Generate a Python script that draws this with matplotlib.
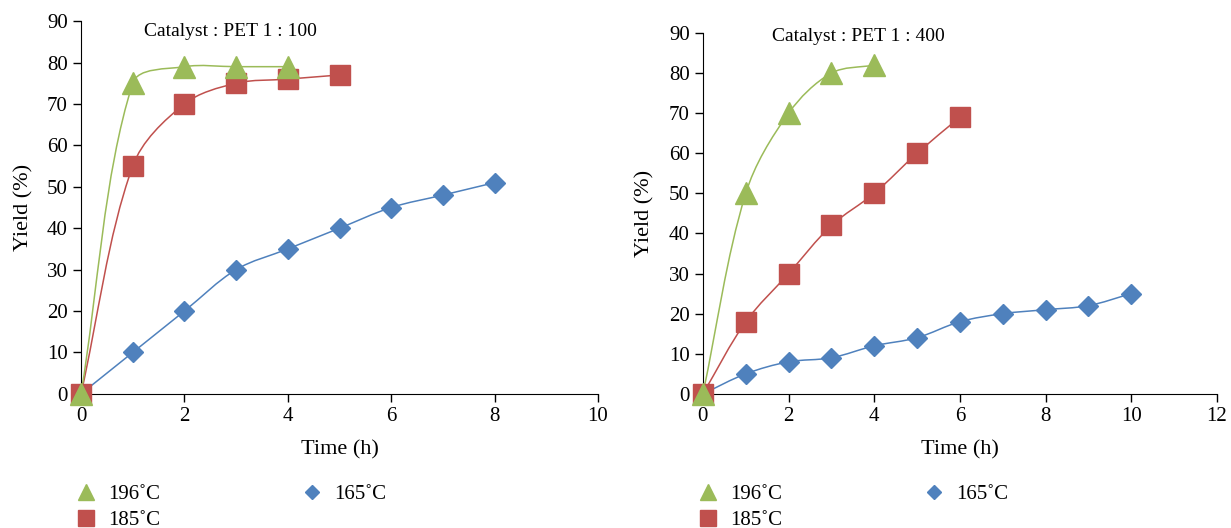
import matplotlib
matplotlib.use('Agg')
import matplotlib.pyplot as plt
from matplotlib.path import Path
from matplotlib.patches import PathPatch
from matplotlib.lines import Line2D
import numpy as np

plt.rcParams['font.family'] = ['Liberation Serif', 'DejaVu Serif']

# left panel, catalyst : PET 1 : 100
t196_a = [0, 1, 2, 3, 4]
y196_a = [0, 75, 79, 79, 79]
t185_a = [0, 1, 2, 3, 4, 5]
y185_a = [0, 55, 70, 75, 76, 77]
t165_a = [0, 1, 2, 3, 4, 5, 6, 7, 8]
y165_a = [0, 10, 20, 30, 35, 40, 45, 48, 51]

# right panel, catalyst : PET 1 : 400
t196_b = [0, 1, 2, 3, 4]
y196_b = [0, 50, 70, 80, 82]
t185_b = [0, 1, 2, 3, 4, 5, 6]
y185_b = [0, 18, 30, 42, 50, 60, 69]
t165_b = [0, 1, 2, 3, 4, 5, 6, 7, 8, 9, 10]
y165_b = [0, 5, 8, 9, 12, 14, 18, 20, 21, 22, 25]

labels = ['196˚C', '185˚C', '165˚C']
green = '#9BBB59'
red = '#C0504D'
blue = '#4F81BD'


def smooth_line(ax, xs, ys, color):
    # excel-like smoothed line: bezier arms scaled by segment length on screen
    pts = ax.transData.transform(np.column_stack([xs, ys]))
    n = len(pts)
    out = [pts[0]]
    codes = [Path.MOVETO]
    for i in range(n - 1):
        p0 = pts[max(i - 1, 0)]
        p1 = pts[i]
        p2 = pts[i + 1]
        p3 = pts[min(i + 2, n - 1)]
        d01 = np.hypot(*(p1 - p0))
        d12 = np.hypot(*(p2 - p1))
        d23 = np.hypot(*(p3 - p2))
        f1 = d12 / (d01 + d12) / 3 if d01 + d12 > 0 else 0
        f2 = d12 / (d12 + d23) / 3 if d12 + d23 > 0 else 0
        out += [p1 + (p2 - p0) * f1, p2 - (p3 - p1) * f2, p2]
        codes += [Path.CURVE4] * 3
    verts = ax.transData.inverted().transform(np.array(out))
    ax.add_patch(PathPatch(Path(verts, codes), fill=False, edgecolor=color, lw=1.1, zorder=2))


def panel(ax, data, xmax, title, tx, ty, leg_y):
    ax.set_xlim(0, xmax)
    ax.set_ylim(0, 90)
    for (xs, ys), color, mk, ms in zip(data, [blue, red, green], ['D', 's', '^'], [10, 15, 16]):
        smooth_line(ax, xs, ys, color)
        ax.plot(xs, ys, linestyle='none', marker=mk, markersize=ms, color=color,
                markeredgecolor=color, zorder=3, clip_on=False)
    ax.set_xticks(range(0, xmax + 1, 2))
    ax.set_yticks(range(0, 91, 10))
    ax.spines['top'].set_visible(False)
    ax.spines['right'].set_visible(False)
    ax.tick_params(labelsize=15, length=6, width=1)
    ax.set_xlabel('Time (h)', fontsize=16, labelpad=10)
    ax.set_ylabel('Yield (%)', fontsize=16, labelpad=10)
    ax.text(tx, ty, title, fontsize=14, ha='center', va='center')
    handles = [
        Line2D([], [], linestyle='none', marker='^', markersize=16, color=green),
        Line2D([], [], linestyle='none', marker='s', markersize=15, color=red),
        Line2D([], [], linestyle='none', marker='D', markersize=10, color=blue),
    ]
    ax.legend(handles, labels, ncol=2, loc='upper left', bbox_to_anchor=(-0.01, leg_y),
              frameon=False, fontsize=15, markerscale=0.75, columnspacing=6.8,
              handlelength=1.0, handletextpad=0.55, labelspacing=0.3,
              borderpad=0, borderaxespad=0)


fig = plt.figure(figsize=(12.31, 5.28), dpi=100)
ax1 = fig.add_axes([0.0658, 0.254, 0.42, 0.706])
ax2 = fig.add_axes([0.571, 0.254, 0.4175, 0.6835])

panel(ax1, [(t165_a, y165_a), (t185_a, y185_a), (t196_a, y196_a)], 10,
      'Catalyst : PET 1 : 100', 2.9, 87.6, -0.244)
panel(ax2, [(t165_b, y165_b), (t185_b, y185_b), (t196_b, y196_b)], 12,
      'Catalyst : PET 1 : 400', 3.64, 89.2, -0.252)

fig.savefig('out.png', dpi=100)
